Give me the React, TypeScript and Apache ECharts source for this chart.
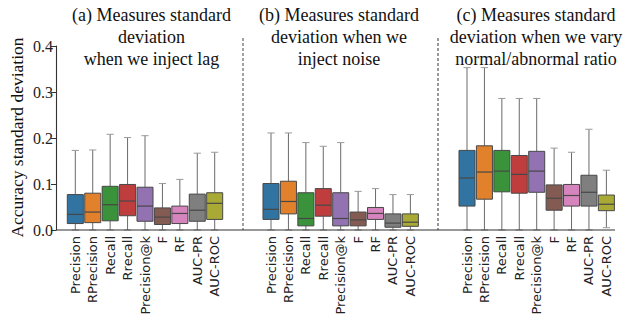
import React, { useEffect, useRef } from "react";
import * as echarts from "echarts";

const categories = ["Precision", "RPrecision", "Recall", "Rrecall", "Precision@k", "F", "RF", "AUC-PR", "AUC-ROC"];
const colors = ["#3274a1", "#e1812c", "#3a923a", "#c03d3e", "#9372b2", "#845b53", "#d684bd", "#7f7f7f", "#a9aa35"];

// [min, q1, median, q3, max]
const lagStats = [
  [0, 0.014, 0.034, 0.077, 0.173],
  [0, 0.016, 0.039, 0.080, 0.174],
  [0, 0.020, 0.055, 0.095, 0.208],
  [0, 0.031, 0.063, 0.099, 0.201],
  [0, 0.019, 0.052, 0.093, 0.205],
  [0, 0.012, 0.028, 0.048, 0.101],
  [0, 0.014, 0.036, 0.052, 0.110],
  [0, 0.019, 0.043, 0.078, 0.167],
  [0, 0.023, 0.058, 0.081, 0.169],
];
const noiseStats = [
  [0, 0.023, 0.045, 0.101, 0.211],
  [0, 0.035, 0.062, 0.106, 0.211],
  [0, 0.009, 0.025, 0.081, 0.190],
  [0, 0.030, 0.054, 0.090, 0.182],
  [0, 0.009, 0.025, 0.081, 0.190],
  [0, 0.009, 0.022, 0.039, 0.084],
  [0, 0.023, 0.036, 0.049, 0.090],
  [0, 0.006, 0.015, 0.035, 0.077],
  [0, 0.008, 0.017, 0.035, 0.077],
];
const ratioStats = [
  [0, 0.052, 0.113, 0.173, 0.353],
  [0, 0.067, 0.126, 0.183, 0.353],
  [0, 0.083, 0.128, 0.173, 0.286],
  [0, 0.080, 0.121, 0.162, 0.286],
  [0, 0.082, 0.128, 0.171, 0.286],
  [0, 0.043, 0.069, 0.098, 0.178],
  [0, 0.052, 0.075, 0.099, 0.169],
  [0, 0.052, 0.082, 0.119, 0.219],
  [0.005, 0.042, 0.056, 0.076, 0.130],
];
const panelTitles = [
  "(a) Measures standard\ndeviation\nwhen we inject lag",
  "(b) Measures standard\ndeviation when we\ninject noise",
  "(c) Measures standard\ndeviation when we vary\nnormal/abnormal ratio",
];
const yTicks = [0, 0.1, 0.2, 0.3, 0.4];
const yLabel = "Accuracy standard deviation";

const SERIF = "'Liberation Serif', 'DejaVu Serif', serif";
const SANS = "'DejaVu Sans', sans-serif";

function renderBox(params: any, api: any) {
  const idx = api.value(0);
  const vals = [1, 2, 3, 4, 5].map((i) => api.value(i));
  const cx = api.coord([idx, 0])[0];
  const ys = vals.map((v: number) => api.coord([idx, v])[1]);
  const band = api.size([1, 0])[0];
  const bw = band * 0.92;
  const cap = bw * 0.45;
  const color = colors[idx];
  const wStyle = { stroke: "#6a6a6a", lineWidth: 1 };
  const cStyle = { stroke: "#9a9a9a", lineWidth: 1 };
  return {
    type: "group",
    children: [
      { type: "line", shape: { x1: cx, y1: ys[0], x2: cx, y2: ys[1] }, style: wStyle },
      { type: "line", shape: { x1: cx, y1: ys[3], x2: cx, y2: ys[4] }, style: wStyle },
      { type: "line", shape: { x1: cx - cap / 2, y1: ys[0], x2: cx + cap / 2, y2: ys[0] }, style: cStyle },
      { type: "line", shape: { x1: cx - cap / 2, y1: ys[4], x2: cx + cap / 2, y2: ys[4] }, style: cStyle },
      {
        type: "rect",
        shape: { x: cx - bw / 2, y: ys[3], width: bw, height: ys[1] - ys[3] },
        style: { fill: color, stroke: "#474747", lineWidth: 1 },
      },
      { type: "line", shape: { x1: cx - bw / 2, y1: ys[2], x2: cx + bw / 2, y2: ys[2] }, style: { stroke: "#474747", lineWidth: 1.2 } },
    ],
  };
}

export default function App() {
  const ref = useRef<HTMLDivElement>(null);
  useEffect(() => {
    if (!ref.current) return;
    const chart = echarts.init(ref.current, null, { renderer: "svg" });
    const stats = [lagStats, noiseStats, ratioStats];
    const lefts = [66.6, 262.3, 458.3];
    const gridW = 156.8;
    const top = 46;
    const height = 184;
    const titleX = [151.5, 339, 536];

    const grids = lefts.map((l) => ({ left: l, top, width: gridW, height }));
    const xAxes = lefts.map((_, i) => ({
      type: "category",
      gridIndex: i,
      data: categories,
      axisLine: { show: false },
      axisTick: { show: false },
      axisLabel: { rotate: 90, fontFamily: SANS, fontSize: 13, color: "#222", margin: 6, interval: 0 },
    }));
    const yAxes = lefts.map((_, i) => ({
      type: "value",
      gridIndex: i,
      min: yTicks[0],
      max: yTicks[yTicks.length - 1],
      interval: 0.1,
      show: i === 0,
      offset: 10.6,
      splitLine: { show: false },
      axisLine: { show: true, lineStyle: { color: "#333", width: 1.1 } },
      axisTick: { show: true, length: 5, lineStyle: { color: "#333" } },
      axisLabel: { fontFamily: SERIF, fontSize: 16, color: "#222", margin: 3, formatter: (v: number) => v.toFixed(1) },
    }));
    const series = stats.map((s, i) => ({
      type: "custom",
      xAxisIndex: i,
      yAxisIndex: i,
      renderItem: renderBox,
      encode: { x: 0, y: [1, 2, 3, 4, 5] },
      data: s.map((row, k) => [k, ...row]),
    }));

    const graphics: any[] = [
      { type: "line", shape: { x1: 56, y1: 230, x2: 615, y2: 230 }, style: { stroke: "#333", lineWidth: 1.1 }, z: 10 },
      { type: "line", shape: { x1: 243, y1: 38, x2: 243, y2: 230 }, style: { stroke: "#444", lineWidth: 1, lineDash: [3, 2] } },
      { type: "line", shape: { x1: 438, y1: 38, x2: 438, y2: 230 }, style: { stroke: "#333", lineWidth: 1, lineDash: [3, 2] } },
      {
        type: "text",
        x: 17,
        y: 137.5,
        rotation: Math.PI / 2,
        style: { text: yLabel, font: `17.5px ${SERIF}`, fill: "#111", textAlign: "center", textVerticalAlign: "middle", align: "center", verticalAlign: "middle" },
      },
      ...panelTitles.map((t, i) => ({
        type: "text",
        x: titleX[i],
        y: 4,
        style: { text: t, font: `18px ${SERIF}`, lineHeight: 22, fill: "#111", textAlign: "center", textVerticalAlign: "top", align: "center", verticalAlign: "top" },
      })),
    ];

    chart.setOption({
      animation: false,
      backgroundColor: "#fff",
      grid: grids,
      xAxis: xAxes,
      yAxis: yAxes,
      series,
      graphic: graphics,
    });
    return () => chart.dispose();
  }, []);
  return <div ref={ref} style={{ position: "fixed", left: 0, top: 0, width: 632, height: 322 }} />;
}
